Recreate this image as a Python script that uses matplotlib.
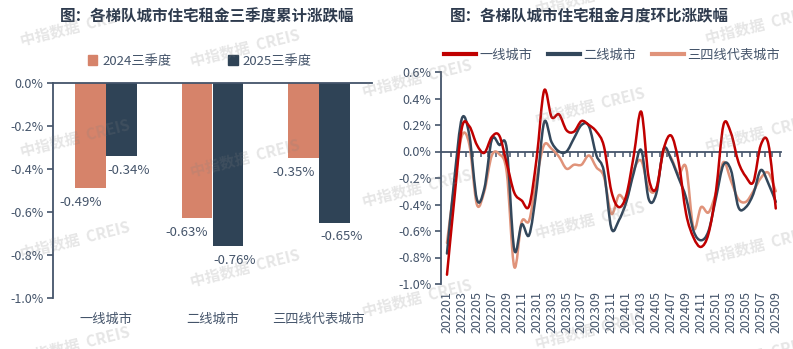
import numpy as np
import matplotlib
matplotlib.use("Agg")
import matplotlib.pyplot as plt
from matplotlib.path import Path
from matplotlib.patches import PathPatch, Patch
from matplotlib.lines import Line2D

plt.rcParams['font.family'] = ['Noto Sans CJK SC', 'DejaVu Sans']

# left chart: cumulative change in Q3
cities = ["一线城市", "二线城市", "三四线代表城市"]
q3_2024 = [-0.49, -0.63, -0.35]
q3_2025 = [-0.34, -0.76, -0.65]

# right chart: month-on-month change, 202201 - 202509
months = [f"{y}{m:02d}" for y in (2022, 2023, 2024, 2025) for m in range(1, 13)][:45]
tier1 = [-0.93, -0.35, 0.18, 0.19, 0.05, -0.01, 0.11, 0.12, -0.09, -0.31,
         -0.37, -0.41, -0.05, 0.46, 0.26, 0.28, 0.16, 0.15, 0.23, 0.20,
         0.15, 0.04, -0.30, -0.42, -0.33, -0.03, 0.30, -0.20, -0.28, 0.02,
         0.12, -0.08, -0.47, -0.65, -0.72, -0.62, -0.30, 0.20, 0.14, -0.08,
         -0.19, -0.23, 0.05, 0.06, -0.43]
tier2 = [-0.77, -0.20, 0.25, 0.12, -0.36, -0.28, 0.09, 0.05, 0.02, -0.74,
         -0.55, -0.63, -0.28, 0.22, 0.07, 0.00, 0.00, 0.10, 0.20, 0.19,
         -0.03, -0.15, -0.58, -0.52, -0.38, -0.16, 0.01, -0.36, -0.32, 0.02,
         -0.06, -0.20, -0.35, -0.60, -0.67, -0.60, -0.35, -0.10, -0.14, -0.42,
         -0.42, -0.32, -0.14, -0.24, -0.38]
tier34 = [-0.69, -0.25, 0.12, 0.05, -0.40, -0.30, -0.03, -0.02, -0.16, -0.87,
          -0.53, -0.52, -0.20, 0.05, 0.02, -0.04, -0.13, -0.10, -0.10, -0.03,
          -0.12, -0.19, -0.47, -0.33, -0.36, -0.14, -0.07, -0.28, -0.28, 0.00,
          -0.05, -0.17, -0.12, -0.58, -0.42, -0.46, -0.31, -0.08, -0.22, -0.36,
          -0.38, -0.30, -0.20, -0.16, -0.30]

TITLE = "#2E3B4E"
TXT = "#44546A"
SPINE = "#44546A"
BAR_OR = "#D6836A"
BAR_NV = "#2F4356"
L_RED = "#C00000"
L_NV = "#33475B"
L_OR = "#E0937A"

W, H = 793, 349
fig = plt.figure(figsize=(W / 100, H / 100), dpi=100)


def pct(v):
    return "0.0%" if abs(v) < 1e-9 else f"{v:.1f}%"


def smooth_path(xs, ys):
    # catmull-rom through the data points, like excel's smoothed line
    pts = np.column_stack([xs, ys]).astype(float)
    n = len(pts)
    verts = [pts[0]]
    codes = [Path.MOVETO]
    for k in range(n - 1):
        p0 = pts[k - 1] if k > 0 else pts[k]
        p1, p2 = pts[k], pts[k + 1]
        p3 = pts[k + 2] if k + 2 < n else pts[k + 1]
        verts += [p1 + (p2 - p0) / 6, p2 - (p3 - p1) / 6, p2]
        codes += [Path.CURVE4] * 3
    return Path(verts, codes)


# ---------- left: bars ----------
ax1 = fig.add_axes([53 / W, 1 - 298 / H, (372 - 53) / W, (298 - 83) / H])
x = np.arange(len(cities))
bw = 0.29
bars1 = ax1.bar(x - bw / 2, q3_2024, bw, color=BAR_OR)
bars2 = ax1.bar(x + bw / 2, q3_2025, bw, color=BAR_NV)
for bars, dx in ((bars1, -10), (bars2, 7)):
    for b in bars:
        v = b.get_height()
        ax1.annotate(f"{v:.2f}%", (b.get_x() + b.get_width() / 2, v),
                     xytext=(dx, -14), textcoords="offset pixels",
                     ha="center", va="center", fontsize=9.5, color=TXT)

ax1.set_xlim(-0.5, 2.5)
ax1.set_ylim(-1.0, 0)
yt1 = [0, -0.2, -0.4, -0.6, -0.8, -1.0]
ax1.set_yticks(yt1)
ax1.set_yticklabels([pct(v) for v in yt1])
ax1.set_xticks(x)
ax1.set_xticklabels(cities)
for s in ("bottom", "right"):
    ax1.spines[s].set_visible(False)
for s in ("top", "left"):
    ax1.spines[s].set_color(SPINE)
    ax1.spines[s].set_linewidth(1.3)
ax1.tick_params(axis="y", length=4, width=1.2, color=SPINE, labelcolor=TXT,
                labelsize=9, pad=3)
ax1.tick_params(axis="x", length=0, labelcolor=TXT, labelsize=9.5, pad=11)

fig.legend(handles=[Patch(color=BAR_OR, label="2024三季度"),
                    Patch(color=BAR_NV, label="2025三季度")],
           loc="center", bbox_to_anchor=(200 / W, 1 - 61 / H), ncol=2,
           frameon=False, fontsize=9.5, labelcolor=TXT, handlelength=0.7,
           handleheight=0.7, handletextpad=0.4, columnspacing=4.3)

fig.text(207 / W, 1 - 16 / H, "图：各梯队城市住宅租金三季度累计涨跌幅",
         ha="center", va="center", fontsize=11.2, fontweight="bold", color=TITLE)

# ---------- right: smoothed lines ----------
pos2 = [441 / W, 1 - 284 / H, 340 / W, 212 / H]

# category axis line sits on zero (drawn underneath the lines)
ax3 = fig.add_axes(pos2)
ax3.set_zorder(0)

ax2 = fig.add_axes(pos2)
ax2.set_zorder(1)
ax2.patch.set_visible(False)
t = np.arange(len(months))
for ys, col in ((tier34, L_OR), (tier2, L_NV), (tier1, L_RED)):
    ax2.add_patch(PathPatch(smooth_path(t, ys), fill=False, edgecolor=col,
                            lw=1.8, capstyle="round", joinstyle="round", zorder=3))

ax2.set_xlim(-0.8, 44.7)
ax2.set_ylim(-1.0, 0.6)
yt2 = [0.6, 0.4, 0.2, 0, -0.2, -0.4, -0.6, -0.8, -1.0]
ax2.set_yticks(yt2)
ax2.set_yticklabels([pct(v) for v in yt2])
ax2.set_xticks(t[::2])
ax2.set_xticklabels(months[::2], rotation=90)
for s in ("top", "right", "bottom"):
    ax2.spines[s].set_visible(False)
ax2.spines["left"].set_color(SPINE)
ax2.spines["left"].set_linewidth(1.3)
ax2.tick_params(axis="y", length=4, width=1.2, color=SPINE, labelcolor=TXT,
                labelsize=9, pad=3)
ax2.tick_params(axis="x", length=0, labelcolor=TXT, labelsize=9, pad=5)

ax3.set_xlim(ax2.get_xlim())
ax3.set_ylim(ax2.get_ylim())
for s in ("top", "right", "left"):
    ax3.spines[s].set_visible(False)
ax3.spines["bottom"].set_position(("data", 0))
ax3.spines["bottom"].set_color(SPINE)
ax3.spines["bottom"].set_linewidth(1.3)
ax3.set_yticks([])
ax3.set_xticks(t + 0.5)
ax3.set_xticklabels([])
ax3.tick_params(axis="x", length=3.5, width=1.1, color=SPINE, direction="out")

fig.legend(handles=[Line2D([], [], color=L_RED, lw=3, label="一线城市"),
                    Line2D([], [], color=L_NV, lw=3, label="二线城市"),
                    Line2D([], [], color=L_OR, lw=3, label="三四线代表城市")],
           loc="center", bbox_to_anchor=(612 / W, 1 - 55 / H), ncol=3,
           frameon=False, fontsize=9.5, labelcolor=TXT, handlelength=2.4,
           handletextpad=0.25, columnspacing=1.2)

fig.text(589 / W, 1 - 16 / H, "图：各梯队城市住宅租金月度环比涨跌幅",
         ha="center", va="center", fontsize=11.2, fontweight="bold", color=TITLE)

# ---------- watermark ----------
marks = [(75, 27), (245, 48), (417, 78), (590, -4), (760, 25),
         (75, 138), (245, 158), (417, 188), (590, 106), (760, 133),
         (75, 240), (245, 268), (417, 298), (590, 220), (760, 245),
         (75, 345), (590, 330), (760, 355)]
for mx, my in marks:
    fig.text(mx / W, 1 - my / H, "中指数据  CREIS", ha="center", va="center",
             rotation=14, fontsize=11, fontweight="bold", color="#808080",
             alpha=0.2, zorder=20)

fig.savefig("out.png", dpi=100)
